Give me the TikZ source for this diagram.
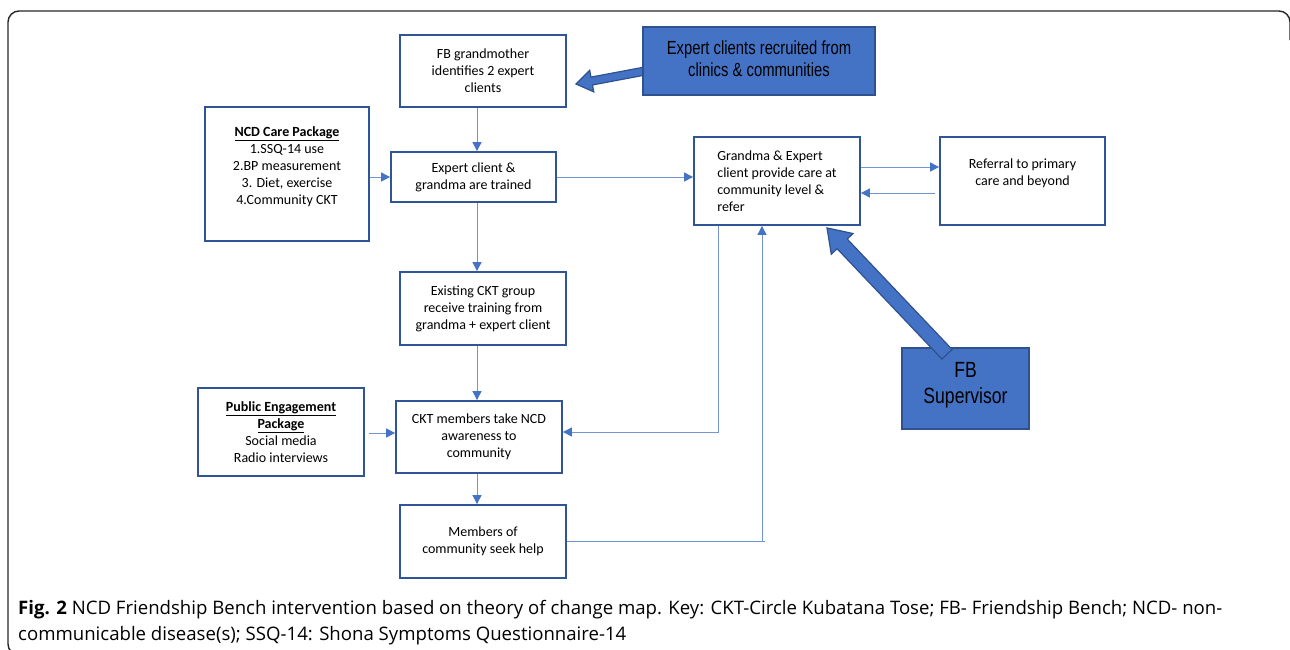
\documentclass[tikz,border=0pt]{standalone}
\usepackage{fontspec}
\setmainfont{Carlito}
\newfontfamily\arialf{Liberation Sans}
\newfontfamily\capf{Open Sans}
\usetikzlibrary{arrows.meta,calc}
\definecolor{boxblue}{HTML}{2F5597}
\definecolor{lineblue}{HTML}{4472C4}
\definecolor{fillblue}{HTML}{4472C4}
\definecolor{edgeblue}{HTML}{2F528F}
\tikzset{
  box/.style={draw=boxblue, line width=1.8pt, fill=white, align=center, inner sep=2pt,
    font=\fontsize{14}{17}\selectfont},
  bluebox/.style={draw=edgeblue, line width=1.5pt, fill=fillblue, align=center, inner sep=0pt},
  flow/.style={draw=lineblue!75, line width=0.9pt, -{Triangle[length=9pt,width=9pt,color=lineblue]}},
  plain/.style={draw=lineblue!75, line width=0.9pt},
  bigarrow/.style={draw=edgeblue, fill=fillblue, line width=1.2pt, line join=miter}
}
\newcommand{\fatarrow}[5]{%
  \coordinate (neck) at ($(#2)!#5!(#1)$);
  \filldraw[bigarrow] ($(#1)!#3!90:(#2)$) -- ($(neck)!#3!90:(#2)$) -- ($(neck)!#4!90:(#2)$)
    -- (#2) -- ($(neck)!#4!-90:(#2)$) -- ($(neck)!#3!-90:(#2)$) -- ($(#1)!#3!-90:(#2)$) -- cycle;}
\begin{document}
\begin{tikzpicture}[x=1pt,y=-1pt]
\useasboundingbox (0,0) rectangle (1290,649);
\draw[line width=1.4pt, black!85, rounded corners=11pt] (14,655) -- (8,655) -- (8,11) -- (1290,11) -- (1290,40);

\coordinate (col) at (477,0);
\coordinate (down) at (718,0);
\coordinate (up) at (762,0);
\coordinate (corner) at (765,541.5);
\node[box, minimum width=166pt, minimum height=72pt] (fbgm) at (483,71) {FB grandmother\\identifies 2 expert\\clients};
\node[box, minimum width=164pt, minimum height=134pt] (ncd) at (287,174) {\underline{\textbf{NCD Care Package}}\\1.SSQ-14 use\\2.BP measurement\\3. Diet, exercise\\4.Community CKT\\~};
\node[box, minimum width=165pt, minimum height=50pt] (train) at (473.5,177) {Expert client \&\\grandma are trained};
\node[box, minimum width=166pt, minimum height=88pt, align=left] (grandma) at (777,181) {Grandma \& Expert\\client provide care at\\community level \&\\refer};
\node[box, minimum width=165pt, minimum height=88pt] (referral) at (1022.5,181) {Referral to primary\\care and beyond\\~};
\node[box, minimum width=166pt, minimum height=73pt] (existing) at (483,308.5) {Existing CKT group\\receive training from\\grandma + expert client};
\node[box, minimum width=166pt, minimum height=88pt] (public) at (281,432) {\underline{\textbf{Public Engagement}}\\\underline{\textbf{Package}}\\Social media\\Radio interviews};
\node[box, minimum width=166pt, minimum height=72pt] (ckt) at (479,437) {CKT members take NCD\\awareness to\\community};
\node[box, minimum width=166pt, minimum height=73pt] (members) at (483,541.5) {Members of\\community seek help};

\coordinate (rtail) at (645,71);
\coordinate (rtip) at (576,84);
\fatarrow{rtail}{rtip}{4pt}{11pt}{16pt}
\node[bluebox, minimum width=232pt, minimum height=68pt] (recruit) at (759,61)
  {\scalebox{0.78}[1]{\arialf\fontsize{19}{22}\selectfont\begin{tabular}{@{}c@{}}Expert clients recruited from\\clinics \& communities\end{tabular}}};

\node[bluebox, minimum width=127pt, minimum height=81pt] (super) at (965.5,388.5)
  {\scalebox{0.8}[1]{\arialf\fontsize{22}{26}\selectfont\begin{tabular}{@{}c@{}}FB\\Supervisor\end{tabular}}\\[6pt]};
\coordinate (stail) at ($(super.north)+(-18.5,7)$);
\coordinate (stip) at ($(grandma.south)+(50,2)$);
\fatarrow{stail}{stip}{7pt}{15pt}{22pt}

\draw[flow] (fbgm.south -| col) -- (train.north -| col);
\draw[flow] (ncd.east |- train) -- (train);
\draw[flow] (train.east) -- (train.east -| grandma.west);
\draw[flow] ($(grandma.east)+(0,-14)$) -- ($(grandma.east -| referral.west)+(0,-14)$);
\draw[flow] ($(referral.west)+(-4,12)$) -- ($(grandma.east)+(0,12)$);
\draw[flow] (train.south -| col) -- (existing.north -| col);
\draw[flow] (existing.south -| col) -- (ckt.north -| col);
\draw[flow] ($(public.east)+(4,1)$) -- ($(ckt.west)+(0,-4)$);
\draw[flow] (ckt.south -| col) -- (members.north -| col);
\draw[flow] (grandma.south -| down) |- ($(ckt.east)+(0,-5)$);
\draw[plain] (members.east) -- (corner);
\draw[flow] (members.east -| up) -- (grandma.south -| up);

\node[anchor=base west, inner sep=0pt, align=left, font=\capf\fontsize{18.6}{26}\selectfont] (cap) at (18,640)
  {\textbf{Fig. 2} NCD Friendship Bench intervention based on theory of change map. Key: CKT-Circle Kubatana Tose; FB- Friendship Bench; NCD- non-\\communicable disease(s); SSQ-14: Shona Symptoms Questionnaire-14};
\end{tikzpicture}
\end{document}
